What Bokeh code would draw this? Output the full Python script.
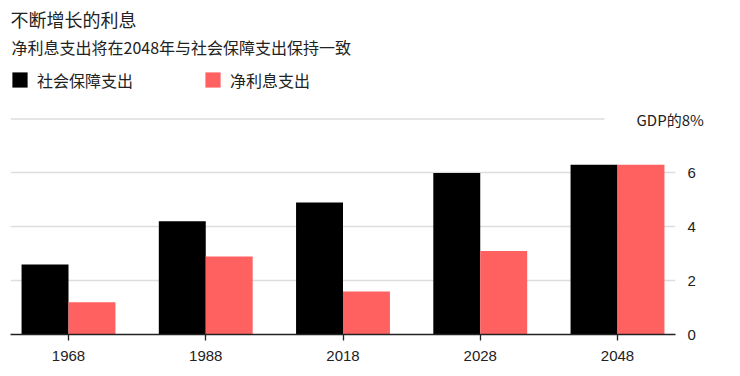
from bokeh.plotting import figure
from bokeh.models import (ColumnDataSource, FixedTicker, Range1d, Label,
                          Legend, LegendItem, LinearAxis)
from bokeh.transform import dodge
from bokeh.embed import file_html
from bokeh.resources import INLINE

# ---- data ----
years = ["1968", "1988", "2018", "2028", "2048"]
social_security = [2.6, 4.2, 4.9, 6.0, 6.3]
net_interest = [1.2, 2.9, 1.6, 3.1, 6.3]
y_ticks = [0, 2, 4, 6]
top_tick = 8
top_label = "GDP的8%"
title_text = "不断增长的利息"
subtitle_text = "净利息支出将在2048年与社会保障支出保持一致"
series_names = ["社会保障支出", "净利息支出"]

# ---- layout ----
W, H = 740, 376
L, R, T, B = 10, 65, 0, 42
fw = W - L - R
fh = H - T - B
pad = 0.4226
x0, x1 = -pad, len(years) - 1 + pad
y0, y1 = 0, 12.4


def sx(px):
    return x0 + (px - L) / fw * (x1 - x0)


def sy(py):
    return y1 - (py - T) / fh * (y1 - y0)


CJK = "Noto Sans CJK SC"
NUM = "Liberation Sans"
BLACK = "#000000"
RED = "#ff6060"
GRID = "#dddddd"
TXT = "#222222"

p = figure(width=W, height=H, x_range=Range1d(x0, x1), y_range=Range1d(y0, y1),
           output_backend="svg", toolbar_location=None, title=None,
           min_border_left=L, min_border_right=R, min_border_top=T,
           min_border_bottom=B, y_axis_location="right")
p.outline_line_color = None
p.background_fill_color = "white"
p.border_fill_color = "white"

src = ColumnDataSource(dict(idx=list(range(len(years))),
                            social=social_security, interest=net_interest))
bw = 0.342
r1 = p.vbar(x=dodge('idx', -bw / 2, range=p.x_range), top='social', width=bw,
            source=src, fill_color=BLACK, line_color=None)
r2 = p.vbar(x=dodge('idx', bw / 2, range=p.x_range), top='interest', width=bw,
            source=src, fill_color=RED, line_color=None)

# grid
p.xgrid.visible = False
p.ygrid.ticker = FixedTicker(ticks=y_ticks)
p.ygrid.grid_line_color = GRID
p.ygrid.grid_line_width = 1.5
p.segment(x0=[x0], y0=[top_tick], x1=[sx(604)], y1=[top_tick],
          line_color=GRID, line_width=1.5, level="underlay")

# x axis
p.xaxis.ticker = FixedTicker(ticks=list(range(len(years))))
p.xaxis.major_label_overrides = {i: y for i, y in enumerate(years)}
p.xaxis.axis_line_color = TXT
p.xaxis.axis_line_width = 1.3
p.xaxis.major_tick_line_color = TXT
p.xaxis.major_tick_line_width = 1.3
p.xaxis.major_tick_out = 6
p.xaxis.major_tick_in = 0
p.xaxis.minor_tick_line_color = None
p.xaxis.major_label_standoff = 10
p.xaxis.major_label_text_font = NUM
p.xaxis.major_label_text_font_size = "15px"
p.xaxis.major_label_text_color = TXT


def style_y(ax, standoff):
    ax.axis_line_color = None
    ax.major_tick_line_color = None
    ax.minor_tick_line_color = None
    ax.major_tick_out = 0
    ax.major_tick_in = 0
    ax.major_label_standoff = standoff
    ax.major_label_text_font = NUM
    ax.major_label_text_font_size = "15px"
    ax.major_label_text_color = TXT


# y axis (right)
p.yaxis.ticker = FixedTicker(ticks=y_ticks)
style_y(p.yaxis[0], 12)

# second right axis carrying only the top "GDP的8%" label
top_axis = LinearAxis(ticker=FixedTicker(ticks=[top_tick]),
                      major_label_overrides={top_tick: top_label})
style_y(top_axis, -62)
top_axis.major_label_text_font = CJK
p.add_layout(top_axis, "right")

# titles (inside the tall frame, above the data)
p.add_layout(Label(x=sx(10), y=sy(18), text=title_text, text_baseline="middle",
                   text_font=CJK, text_font_size="18px", text_color=TXT))
p.add_layout(Label(x=sx(11), y=sy(46), text=subtitle_text, text_baseline="middle",
                   text_font=CJK, text_font_size="16px", text_color=TXT))

# legends
leg_bottom = (H - B) - 91.5
for r, name, lx in [(r1, series_names[0], 0), (r2, series_names[1], 193)]:
    leg = Legend(items=[LegendItem(label=name, renderers=[r])],
                 location=(lx, leg_bottom), orientation="horizontal",
                 glyph_width=19, glyph_height=19, label_height=19,
                 label_standoff=8, padding=0, margin=0, spacing=0,
                 border_line_color=None, background_fill_alpha=0,
                 label_text_font=CJK, label_text_font_size="16px",
                 label_text_color=TXT)
    p.add_layout(leg, "center")

open("out.html", "w").write(file_html(p, INLINE))
